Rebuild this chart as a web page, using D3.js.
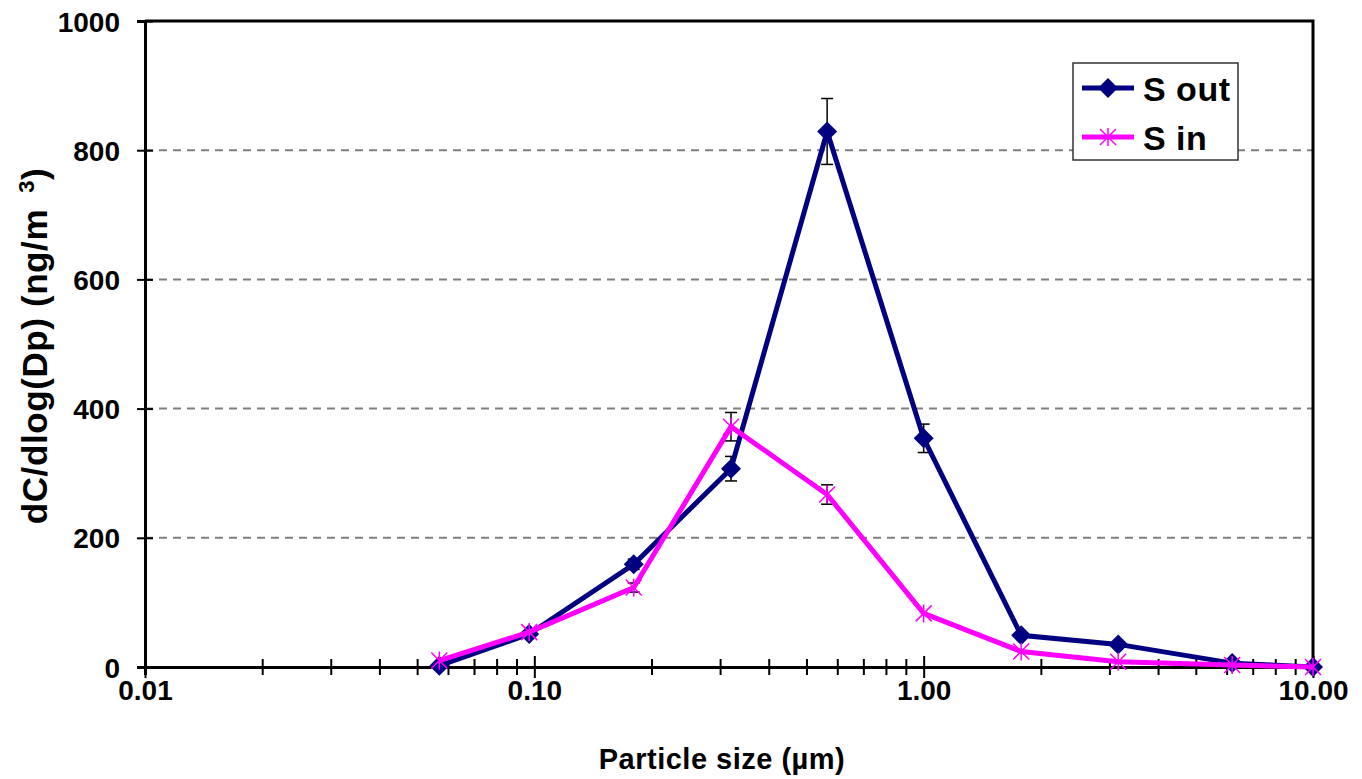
<!DOCTYPE html>
<html>
<head>
<meta charset="utf-8">
<script src="https://cdn.jsdelivr.net/npm/d3@7"></script>
<style>
  html, body { margin: 0; padding: 0; background: #fff; }
  svg { display: block; font-family: "Liberation Sans", Arial, sans-serif; font-weight: bold; }
</style>
</head>
<body>
<svg id="chart" width="1362" height="779"></svg>
<script>
// ---- data ----
const particleSizes = [0.057, 0.097, 0.18, 0.32, 0.565, 1.0, 1.78, 3.16, 6.2, 10];
const sOut = [2, 51, 159, 307, 829, 354, 49, 35, 6, 0];
const sOutErr = [0, 0, 8, 19, 51, 22, 0, 0, 0, 0];
const sIn = [10, 54, 123, 372, 267, 83, 24, 8, 3, 0];
const sInErr = [0, 0, 7, 22, 15, 0, 0, 0, 0, 0];
const xTickValues = [0.01, 0.1, 1, 10];
const yTickValues = [0, 200, 400, 600, 800, 1000];
const seriesNames = ["S out", "S in"];

(function () {
// ---- layout ----
const svg = d3.select("#chart");
const pL = 145, pR = 1313, pT = 21, pB = 667;
const x = d3.scaleLog().domain([0.01, 10]).range([pL, pR]);
const y = d3.scaleLinear().domain([0, 1000]).range([pB, pT]);

// gridlines
svg.append("g").selectAll("line").data(yTickValues.filter(v => v > 0 && v < 1000)).join("line")
  .attr("x1", pL).attr("x2", pR)
  .attr("y1", d => y(d)).attr("y2", d => y(d))
  .attr("stroke", "#808080").attr("stroke-width", 2).attr("stroke-dasharray", "8,6");

// plot border (top & right)
svg.append("path")
  .attr("d", `M${pL},${pT}H${pR}V${pB}`)
  .attr("fill", "none").attr("stroke", "#000").attr("stroke-width", 3);

// x axis
const minorTicks = [];
for (let e = -2; e < 1; e++) for (let m = 1; m < 10; m++) minorTicks.push(m * Math.pow(10, e));
minorTicks.push(10);
const isMajor = d => xTickValues.some(v => Math.abs(v - d) < 1e-9);
const xAxisG = svg.append("g").attr("transform", `translate(0,${pB})`)
  .call(d3.axisBottom(x).tickValues(minorTicks).tickSize(8).tickFormat(""));
xAxisG.select(".domain").attr("stroke", "#000").attr("stroke-width", 3);
xAxisG.selectAll(".tick line")
  .attr("y1", d => isMajor(d) ? -11 : -8)
  .attr("y2", d => isMajor(d) ? 11 : 8)
  .attr("stroke", "#000").attr("stroke-width", 2);
const xLabG = svg.append("g").attr("transform", `translate(0,${pB})`)
  .call(d3.axisBottom(x).tickValues(xTickValues).tickSize(0).tickFormat(d3.format(".2f")));
xLabG.select(".domain").remove();
xLabG.selectAll(".tick text").attr("font-size", 28).attr("font-weight", "bold")
  .attr("font-family", "Liberation Sans, Arial, sans-serif").attr("fill", "#000").attr("dy", "0").attr("y", 33);

// y axis
const yAxisG = svg.append("g").attr("transform", `translate(${pL},0)`)
  .call(d3.axisLeft(y).tickValues(yTickValues).tickSize(8).tickFormat(d3.format("d")));
yAxisG.select(".domain").attr("stroke", "#000").attr("stroke-width", 3);
yAxisG.selectAll(".tick line").attr("x1", -8).attr("x2", 8).attr("stroke", "#000").attr("stroke-width", 2);
yAxisG.selectAll(".tick text").attr("font-size", 28).attr("font-weight", "bold")
  .attr("font-family", "Liberation Sans, Arial, sans-serif").attr("fill", "#000").attr("x", -25).attr("dy", "0.36em");

// axis titles
svg.append("text").attr("x", 722).attr("y", 769).attr("text-anchor", "middle")
  .attr("font-size", 29).attr("letter-spacing", 0.5).text("Particle size (µm)");
const yt = svg.append("text").attr("transform", `translate(47,346) rotate(-90)`).attr("text-anchor", "middle")
  .attr("font-size", 35).attr("letter-spacing", 0.6);
yt.append("tspan").text("dC/dlog(Dp) (ng/m");
yt.append("tspan").attr("dx", 16).attr("dy", -13).attr("font-size", 22).text("3");
yt.append("tspan").attr("dy", 13).text(")");

// series
const outData = particleSizes.map((s, i) => ({ s, v: sOut[i], e: sOutErr[i] }));
const inData = particleSizes.map((s, i) => ({ s, v: sIn[i], e: sInErr[i] }));
const line = d3.line().x(d => x(d.s)).y(d => y(d.v));

function errorBars(data) {
  const g = svg.append("g").attr("stroke", "#000").attr("stroke-width", 1.5);
  data.filter(d => d.e > 0).forEach(d => {
    const cx = x(d.s);
    g.append("line").attr("x1", cx).attr("x2", cx).attr("y1", y(d.v + d.e)).attr("y2", y(d.v - d.e));
    g.append("line").attr("x1", cx - 6).attr("x2", cx + 6).attr("y1", y(d.v + d.e)).attr("y2", y(d.v + d.e));
    g.append("line").attr("x1", cx - 6).attr("x2", cx + 6).attr("y1", y(d.v - d.e)).attr("y2", y(d.v - d.e));
  });
}
errorBars(outData);
errorBars(inData);

const navy = "#000080", magenta = "#FF00FF";
const diamond = "M0,-10L10,0L0,10L-10,0Z";
const star = "M0,-9V9M-8,-8L8,8M-8,8L8,-8";

svg.append("path").datum(outData).attr("d", line).attr("fill", "none").attr("stroke", navy).attr("stroke-width", 5);
svg.append("g").selectAll("path").data(outData).join("path")
  .attr("transform", d => `translate(${x(d.s)},${y(d.v)})`).attr("d", diamond).attr("fill", navy);

svg.append("path").datum(inData).attr("d", line).attr("fill", "none").attr("stroke", magenta).attr("stroke-width", 5);
svg.append("g").selectAll("path").data(inData).join("path")
  .attr("transform", d => `translate(${x(d.s)},${y(d.v)})`).attr("d", star).attr("fill", "none")
  .attr("stroke", magenta).attr("stroke-width", 1.5);

// legend
const lg = svg.append("g");
lg.append("rect").attr("x", 1073).attr("y", 63).attr("width", 165).attr("height", 97)
  .attr("fill", "#fff").attr("stroke", "#333").attr("stroke-width", 1.5);
const legendRows = [
  { name: seriesNames[0], color: navy, shape: diamond, fill: navy, yy: 88 },
  { name: seriesNames[1], color: magenta, shape: star, fill: "none", yy: 137 }
];
legendRows.forEach(r => {
  lg.append("line").attr("x1", 1082).attr("x2", 1134).attr("y1", r.yy).attr("y2", r.yy)
    .attr("stroke", r.color).attr("stroke-width", 5);
  lg.append("path").attr("transform", `translate(1108,${r.yy})`).attr("d", r.shape)
    .attr("fill", r.fill).attr("stroke", r.fill === "none" ? r.color : "none").attr("stroke-width", 1.5);
  lg.append("text").attr("x", 1143).attr("y", r.yy + 13).attr("font-size", 34).attr("letter-spacing", 0.5)
    .attr("fill", "#000").text(r.name);
});
})();
</script>
</body>
</html>
